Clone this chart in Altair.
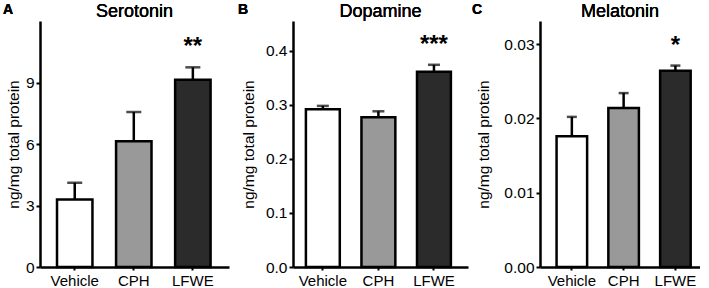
import altair as alt
import pandas as pd

FONT = "Liberation Sans"

groups = ["Vehicle", "CPH", "LFWE"]
fills = ["#ffffff", "#999999", "#2b2b2b"]

serotonin_mean = [3.29, 6.13, 9.13]
serotonin_sem = [0.82, 1.43, 0.61]
serotonin_sig = ["", "", "**"]

dopamine_mean = [0.292, 0.277, 0.361]
dopamine_sem = [0.006, 0.011, 0.013]
dopamine_sig = ["", "", "***"]

melatonin_mean = [0.0176, 0.0214, 0.0264]
melatonin_sem = [0.0026, 0.0020, 0.0007]
melatonin_sig = ["", "", "*"]

serotonin_ticks = [0, 3, 6, 9]
dopamine_ticks = [0.0, 0.1, 0.2, 0.3, 0.4]
melatonin_ticks = [0.00, 0.01, 0.02, 0.03]

Y_TITLE = "ng/mg total protein"
HEIGHT = 246


def panel(letter, name, means, sems, sig, ymax, ticks, fmt, width,
          pad_inner, pad_outer, align, cap, title_x, letter_x):
    df = pd.DataFrame({
        "group": groups,
        "mean": means,
        "upper": [m + s for m, s in zip(means, sems)],
        "sig": sig,
    })
    x = alt.X("group:N", sort=groups, title=None,
              scale=alt.Scale(domain=groups, paddingInner=pad_inner,
                              paddingOuter=pad_outer, align=align),
              axis=alt.Axis(labelAngle=0, tickSize=3, labelPadding=3,
                            labelFontSize=15))
    y_scale = alt.Scale(domain=[0, ymax], nice=False, zero=True)
    base = alt.Chart(df)

    bars = base.mark_bar(stroke="black", strokeWidth=2.5).encode(
        x=x,
        y=alt.Y("mean:Q", scale=y_scale, title=Y_TITLE,
                axis=alt.Axis(values=ticks, format=fmt, titleX=title_x,
                              titleBaseline="middle", titleFontSize=15.5,
                              titleFontWeight="normal")),
        fill=alt.Fill("group:N", scale=alt.Scale(domain=groups, range=fills),
                      legend=None),
    )
    err = base.mark_rule(color="black", strokeWidth=2.5).encode(
        x=x, y="mean:Q", y2="upper:Q")
    caps = base.mark_tick(color="black", thickness=2.5, size=cap).encode(
        x=x, y="upper:Q")
    stars = base.mark_text(font=FONT, fontSize=24, fontWeight="bold",
                           baseline="alphabetic", dy=-13).encode(
        x=x, y="upper:Q", text="sig:N")
    # panel letter and panel heading above the plot area
    tag = base.mark_text(font=FONT, fontSize=14, fontWeight="bold",
                         align="left", baseline="alphabetic").encode(
        x=alt.value(letter_x), y=alt.value(-7.5), text=alt.value(letter))
    head = base.mark_text(font=FONT, fontSize=18, align="center",
                          baseline="alphabetic").encode(
        x=alt.value(width / 2), y=alt.value(-4.5), text=alt.value(name))

    return alt.layer(bars, err, caps, stars, tag, head).properties(
        width=width, height=HEIGHT)


pa = panel("A", "Serotonin", serotonin_mean, serotonin_sem, serotonin_sig,
           12, serotonin_ticks, "d", 189, 0.4, 0.3, 0.48, 15, -27, -37)
pb = panel("B", "Dopamine", dopamine_mean, dopamine_sem, dopamine_sig,
           0.455, dopamine_ticks, ".1f", 175, 0.39, 0.27, 0.43, 12, -45, -55)
pc = panel("C", "Melatonin", melatonin_mean, melatonin_sem, melatonin_sig,
           0.0331, melatonin_ticks, ".2f", 160, 0.41, 0.25, 0.64, 10, -57, -68)

right = alt.hconcat(pb, pc, spacing=72, bounds="flush")
chart = alt.hconcat(pa, right, spacing=64, bounds="flush").properties(
    padding={"left": 3, "top": 2, "right": 0, "bottom": 0},
).configure_view(stroke=None).configure_axis(
    grid=False,
    domainColor="black", domainWidth=2.5,
    tickColor="black", tickWidth=2, tickSize=4,
    labelFont=FONT, labelFontSize=15.5, labelColor="black", labelPadding=2,
    titleFont=FONT, titleColor="black",
)

chart.save("out.html", embed_options={"renderer": "svg", "actions": False})
